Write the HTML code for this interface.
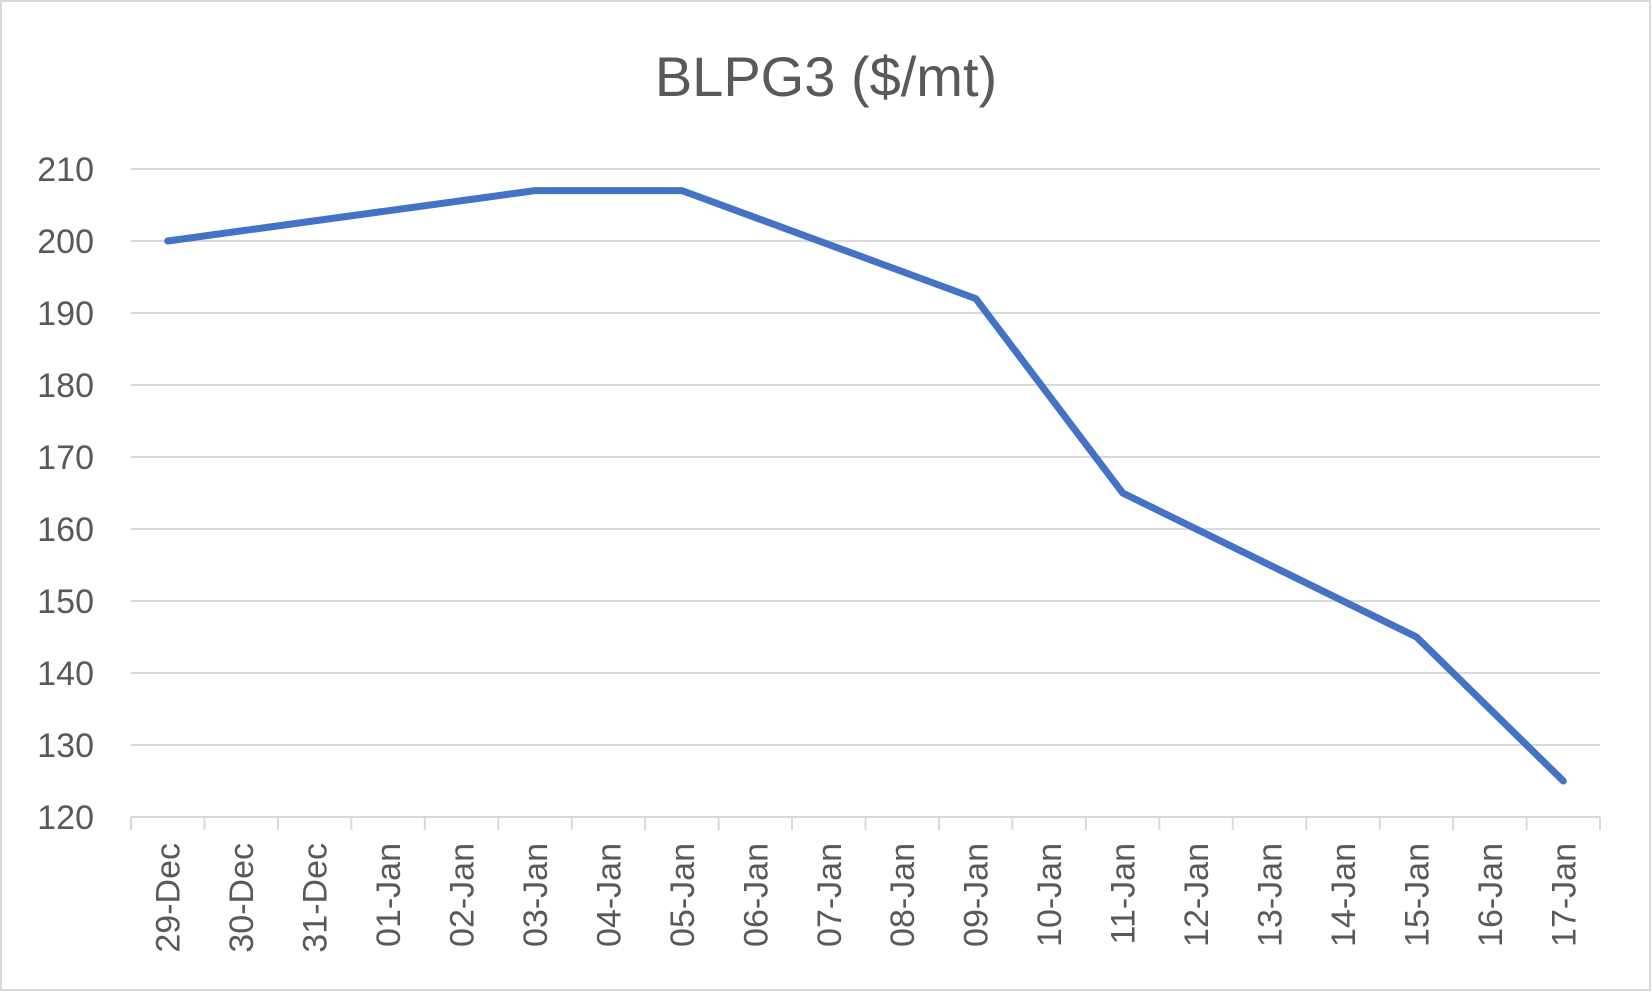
<!DOCTYPE html>
<html><head><style>body{margin:0;background:#fff}</style></head><body>
<svg width="1652" height="992" xmlns="http://www.w3.org/2000/svg" font-family="Liberation Sans, sans-serif">
<rect x="1" y="1" width="1649" height="989" fill="#fff" stroke="#d9d9d9" stroke-width="2"/>
<text x="826" y="96" font-size="56" fill="#595959" text-anchor="middle">BLPG3 ($/mt)</text>
<g stroke="#d9d9d9" stroke-width="2">
<line x1="131" x2="1600" y1="169" y2="169"/><line x1="131" x2="1600" y1="241" y2="241"/>
<line x1="131" x2="1600" y1="313" y2="313"/><line x1="131" x2="1600" y1="385" y2="385"/>
<line x1="131" x2="1600" y1="457" y2="457"/><line x1="131" x2="1600" y1="529" y2="529"/>
<line x1="131" x2="1600" y1="601" y2="601"/><line x1="131" x2="1600" y1="673" y2="673"/>
<line x1="131" x2="1600" y1="745" y2="745"/><line x1="131" x2="1600" y1="817" y2="817"/>
</g>
<g id="ticks" stroke="#d9d9d9" stroke-width="2"></g>
<g font-size="34" fill="#595959" text-anchor="end">
<text x="94" y="181">210</text><text x="94" y="253">200</text><text x="94" y="325">190</text>
<text x="94" y="397">180</text><text x="94" y="469">170</text><text x="94" y="541">160</text>
<text x="94" y="613">150</text><text x="94" y="685">140</text><text x="94" y="757">130</text>
<text x="94" y="829">120</text>
</g>
<g id="xl" font-size="34" fill="#595959" text-anchor="end"></g>
<polyline fill="none" stroke="#4472C4" stroke-width="7" stroke-linecap="round" stroke-linejoin="round"
points="167.7,241 535,190.6 682,190.6 975.8,298.6 1122.7,493 1416.5,637 1563.3,781"/>
<script>
var labs=["29-Dec","30-Dec","31-Dec","01-Jan","02-Jan","03-Jan","04-Jan","05-Jan","06-Jan","07-Jan","08-Jan","09-Jan","10-Jan","11-Jan","12-Jan","13-Jan","14-Jan","15-Jan","16-Jan","17-Jan"];
var s=73.45,t=document.getElementById('ticks'),x=document.getElementById('xl'),ns="http://www.w3.org/2000/svg";
for(var i=0;i<=20;i++){var l=document.createElementNS(ns,'line');var xx=131+i*s;l.setAttribute('x1',xx);l.setAttribute('x2',xx);l.setAttribute('y1',817);l.setAttribute('y2',830);t.appendChild(l);}
labs.forEach(function(n,i){var e=document.createElementNS(ns,'text');var cx=131+(i+0.5)*s+12;e.setAttribute('transform','translate('+cx+',843) rotate(-90)');e.setAttribute('x',0);e.setAttribute('y',0);e.textContent=n;x.appendChild(e);});
</script>
</svg>
</body></html>
